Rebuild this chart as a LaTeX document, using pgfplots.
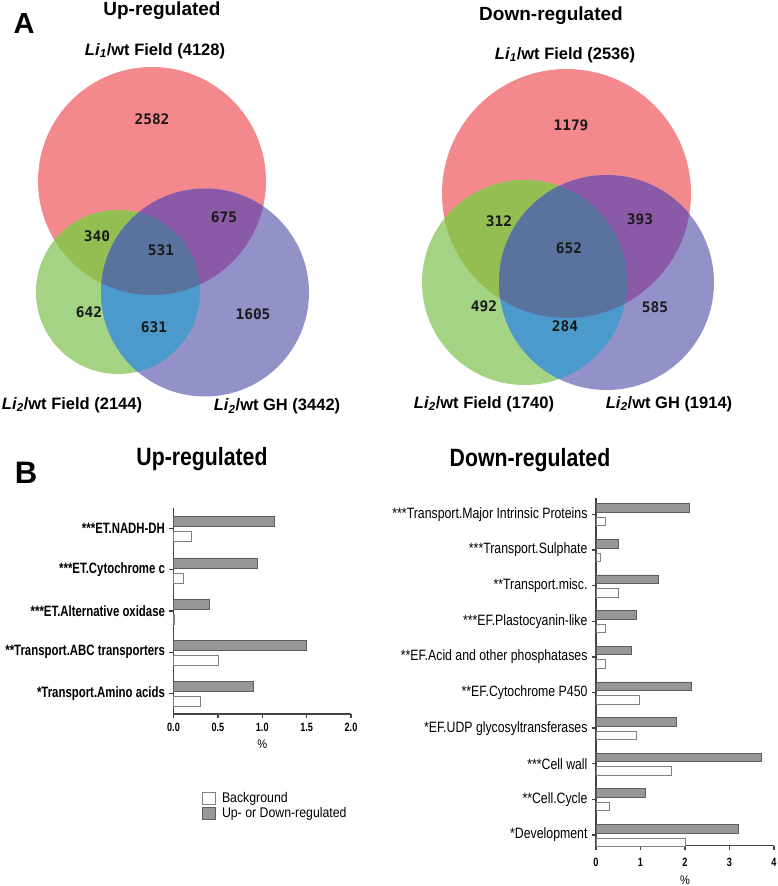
\documentclass[border=0pt]{standalone}
\usepackage{pgfplots}
\pgfplotsset{compat=1.18}
\usepackage{fontspec}
\setmainfont{Liberation Sans}
\newfontfamily\narrowB{Liberation Sans}[FakeStretch=0.76]
\newfontfamily\narrowR{Liberation Sans}[FakeStretch=0.82]
\newfontfamily\narrowL{Liberation Sans}[FakeStretch=0.88]
\newfontfamily\narrowT{Liberation Sans}[FakeStretch=0.85]
\newfontfamily\vmono{DejaVu Sans Mono}
\newcommand\fs[1]{\fontsize{#1}{#1}\selectfont}
\definecolor{vR}{HTML}{F4898D}
\definecolor{vG}{HTML}{A3D383}
\definecolor{vB}{HTML}{9292C9}
\definecolor{vRG}{HTML}{94BE52}
\definecolor{vRB}{HTML}{8B5AA6}
\definecolor{vGB}{HTML}{4C9ACB}
\definecolor{vRGB}{HTML}{5A729E}
\definecolor{barG}{HTML}{979797}
\definecolor{barE}{HTML}{5E5E5E}
\definecolor{axc}{HTML}{444444}
\pgfplotsset{
  sqlegend/.style={legend image code/.code={\draw[##1] (0pt,-6pt) rectangle (13pt,6pt);}},
  barax/.style={
    scale only axis, clip=false,
    axis x line*=bottom, axis y line*=left,
    axis line style={axc, line width=1.3pt},
    tick align=outside, major tick length=4pt,
    every tick/.style={axc, line width=1.3pt},
    /pgf/number format/assume math mode=true,
    xlabel={\%},
  }
}
% Venn circles (pixel coordinates, y downwards negated)
\def\aR{(axis cs:152,-181) circle[radius=114]}
\def\aG{(axis cs:118,-292) circle[radius=82]}
\def\aB{(axis cs:205,-292.5) circle[radius=104]}
\def\bR{(axis cs:566.5,-193.5) circle[radius=124.5]}
\def\bG{(axis cs:524.5,-282.5) circle[radius=102.5]}
\def\bB{(axis cs:606.5,-282.5) circle[radius=107.5]}
\begin{document}
\begin{tikzpicture}[x=1pt,y=1pt]
\useasboundingbox (0pt,0pt) rectangle (778pt,-886pt);
% ---------------- Panel A: Venn diagrams ----------------
\begin{axis}[at={(0pt,0pt)}, anchor=north west, scale only axis,
  width=778pt, height=450pt, xmin=0, xmax=778, ymin=-450, ymax=0,
  hide axis, clip=false]
\pgfplotsextra{%
  \fill[vR] \aR; \fill[vG] \aG; \fill[vB] \aB;
  \begin{scope}\clip \aR; \fill[vRG] \aG; \fill[vRB] \aB; \end{scope}
  \begin{scope}\clip \aG; \fill[vGB] \aB;
    \begin{scope}\clip \aR; \fill[vRGB] \aB; \end{scope}
  \end{scope}
  \fill[vR] \bR; \fill[vG] \bG; \fill[vB] \bB;
  \begin{scope}\clip \bR; \fill[vRG] \bG; \fill[vRB] \bB; \end{scope}
  \begin{scope}\clip \bG; \fill[vGB] \bB;
    \begin{scope}\clip \bR; \fill[vRGB] \bB; \end{scope}
  \end{scope}
}
% titles
\node[anchor=base, font=\bfseries\fs{19}] at (axis cs:162,-15) {Up-regulated};
\node[anchor=base, font=\bfseries\fs{19}] at (axis cs:551,-20) {Down-regulated};
\node[anchor=base, font=\bfseries\fs{29}] at (axis cs:24,-33.5) {A};
% set labels
\begin{scope}[every node/.style={anchor=base, font=\bfseries\fs{16.5}}]
\node at (axis cs:155,-55) {\textit{Li}\textsubscript{\textit{1}}/wt Field (4128)};
\node at (axis cs:72,-409.3) {\textit{Li}\textsubscript{\textit{2}}/wt Field (2144)};
\node at (axis cs:277,-410.7) {\textit{Li}\textsubscript{\textit{2}}/wt GH (3442)};
\node at (axis cs:565,-59.3) {\textit{Li}\textsubscript{\textit{1}}/wt Field (2536)};
\node at (axis cs:484,-408.3) {\textit{Li}\textsubscript{\textit{2}}/wt Field (1740)};
\node at (axis cs:669,-408.3) {\textit{Li}\textsubscript{\textit{2}}/wt GH (1914)};
\end{scope}
% region counts
\begin{scope}[every node/.style={font=\vmono\bfseries\fs{14.5}, text=black!90}]
\node at (axis cs:152,-119) {2582};
\node at (axis cs:224,-217) {675};
\node at (axis cs:97,-236) {340};
\node at (axis cs:161,-250) {531};
\node at (axis cs:89,-312) {642};
\node at (axis cs:154,-327) {631};
\node at (axis cs:253,-314) {1605};
\node at (axis cs:571,-125) {1179};
\node at (axis cs:499,-221) {312};
\node at (axis cs:640,-219) {393};
\node at (axis cs:569,-248) {652};
\node at (axis cs:484,-306) {492};
\node at (axis cs:565,-326) {284};
\node at (axis cs:655,-307) {585};
\end{scope}
% panel B titles
\node[anchor=base, font=\narrowT\bfseries\fs{25}] at (axis cs:202,-465) {Up-regulated};
\node[anchor=base, font=\narrowT\bfseries\fs{25}] at (axis cs:530,-466) {Down-regulated};
\node[anchor=base, font=\bfseries\fs{31}] at (axis cs:26,-483) {B};
\end{axis}
% ---------------- Panel B left: Up-regulated ----------------
\begin{axis}[barax, at={(173.5pt,-508pt)}, anchor=north west,
  width=177.5pt, height=206pt,
  xmin=0, xmax=2, ymin=-0.5, ymax=4.5,
  xtick={0,0.5,1,1.5,2},
  xticklabel style={font=\narrowB\bfseries\fs{12}, yshift=-1.5pt, /pgf/number format/.cd, fixed, fixed zerofill, precision=1},
  xlabel style={font=\narrowL\fs{12.5}, yshift=-1pt},
  ytick={0,1,2,3,4},
  yticklabels={*Transport.Amino acids, **Transport.ABC transporters, ***ET.Alternative oxidase, ***ET.Cytochrome c, ***ET.NADH-DH},
  yticklabel style={font=\narrowB\bfseries\fs{15}, xshift=-1pt},
  legend style={draw=none, fill=none, at={(axis description cs:0.16,-0.37)}, anchor=north west,
    font=\narrowL\fs{14}, row sep=0.5pt, column sep=5pt, inner sep=0pt, nodes={inner sep=1.5pt}},
  legend cell align=left]
\addplot[xbar, bar width=10pt, bar shift=-8pt, draw=black!50, fill=white, sqlegend]
  coordinates {(0.30,0) (0.50,1) (0.01,2) (0.11,3) (0.20,4)};
\addplot[xbar, bar width=10pt, bar shift=7pt, draw=barE, fill=barG, sqlegend]
  coordinates {(0.90,0) (1.50,1) (0.40,2) (0.94,3) (1.13,4)};
\legend{Background, Up- or Down-regulated}
\end{axis}
% ---------------- Panel B right: Down-regulated ----------------
\begin{axis}[barax, at={(596pt,-498pt)}, anchor=north west,
  width=178pt, height=347.7pt,
  xmin=0, xmax=4, ymin=-0.3, ymax=9.46,
  xtick={0,1,2,3,4},
  xticklabel style={font=\narrowB\bfseries\fs{12}, yshift=-5pt},
  xlabel style={font=\narrowL\fs{12.5}, yshift=-2pt},
  ytick={0,1,2,3,4,5,6,7,8,9},
  yticklabels={*Development, **Cell.Cycle, ***Cell wall, *EF.UDP glycosyltransferases, **EF.Cytochrome P450, **EF.Acid and other phosphatases, ***EF.Plastocyanin-like, **Transport.misc., ***Transport.Sulphate, ***Transport.Major Intrinsic Proteins},
  yticklabel style={font=\narrowR\fs{15}, xshift=-1pt}]
\addplot[xbar, bar width=8.5pt, bar shift=-7pt, draw=black!50, fill=white]
  coordinates {(2.0,0) (0.3,1) (1.7,2) (0.9,3) (0.97,4) (0.2,5) (0.2,6) (0.5,7) (0.1,8) (0.2,9)};
\addplot[xbar, bar width=8.5pt, bar shift=6.5pt, draw=barE, fill=barG]
  coordinates {(3.2,0) (1.1,1) (3.71,2) (1.8,3) (2.15,4) (0.8,5) (0.9,6) (1.4,7) (0.5,8) (2.1,9)};
\end{axis}
\end{tikzpicture}
\end{document}
